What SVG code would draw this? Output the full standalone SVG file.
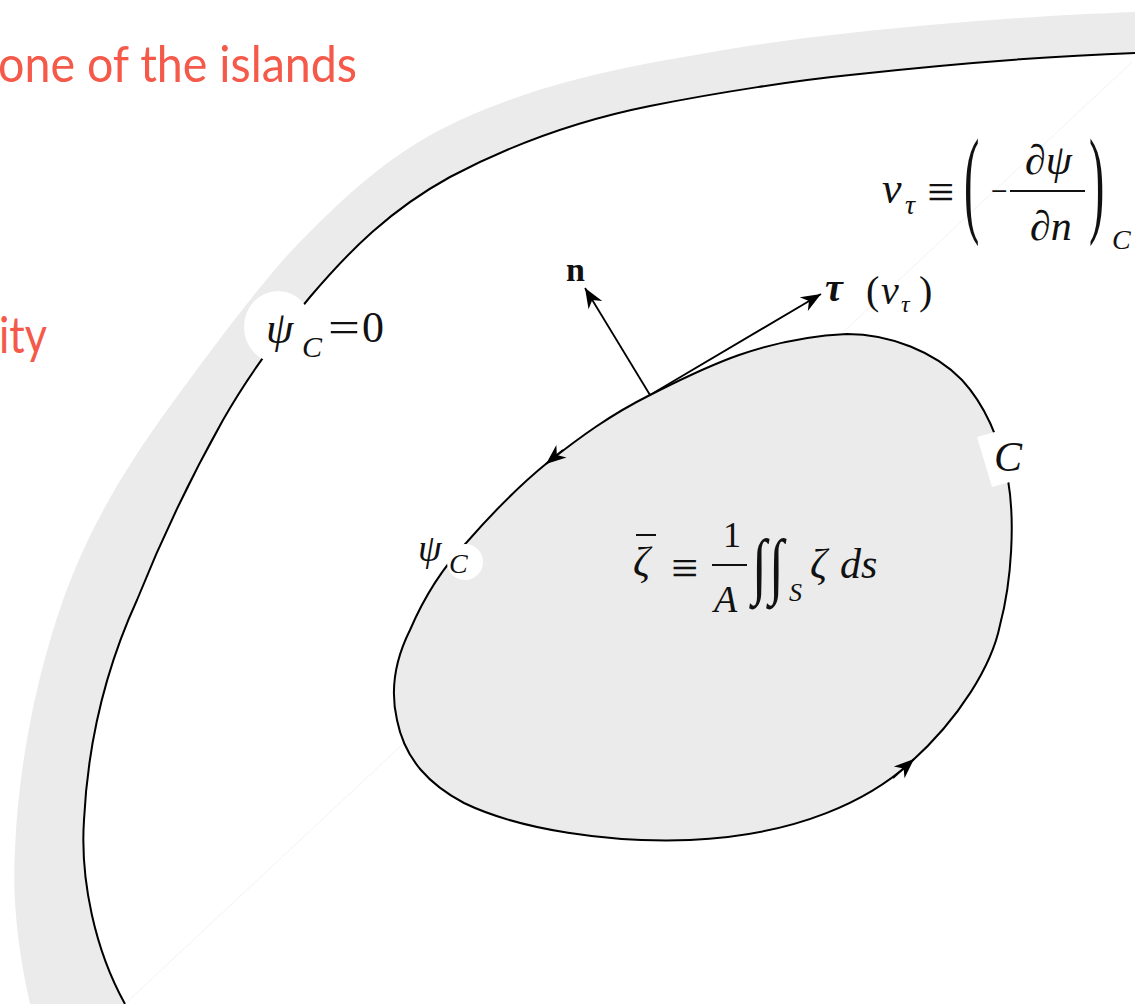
<svg xmlns="http://www.w3.org/2000/svg" width="1135" height="1004" viewBox="0 0 1135 1004">
<style>
.red{font-family:Lato,"Open Sans",sans-serif;fill:#f4594a;font-size:50px}
.m{font-family:"Liberation Serif","DejaVu Serif",serif;fill:#111}
.i{font-style:italic}
.b{font-weight:bold}
.curve{fill:none;stroke:#000;stroke-width:2}
.arr{fill:none;stroke:#000;stroke-width:1.8}
</style>
<defs>
<marker id="ah" viewBox="-21 -9 22 18" refX="0" refY="0" markerWidth="22" markerHeight="18" markerUnits="userSpaceOnUse" orient="auto">
<path d="M0,0 L-20,-8 L-14,0 L-20,8 Z" fill="#000"/>
</marker>
</defs>
<rect width="1135" height="1004" fill="#fff"/>
<g id="red-text">
<text class="red" x="-2" y="82" textLength="359" lengthAdjust="spacingAndGlyphs">one of the islands</text>
<text class="red" x="-1" y="353" textLength="48" lengthAdjust="spacingAndGlyphs">ity</text>
</g>
<g id="outer-boundary">
<path d="M30,1004 C18,950 12,900 15,850 C18,770 35,680 63,600 C90,525 125,470 160,420 C200,365 240,310 283,260 C330,210 370,172 417,143 C480,105 560,80 650,63 C720,50 780,40 850,33 C950,22 1050,15 1135,12 L1135,1004 Z" fill="#ebebeb"/>
<path d="M125,1004 C95,950 80,880 84,820 C88,740 105,670 137,600 C165,530 195,470 223,420 C240,390 270,345 310,297 C350,250 390,210 450,177 C520,140 590,118 650,106 C720,92 800,80 850,75 C950,64 1050,56 1135,53 L1135,1004 Z" fill="#fff"/>
<line x1="127" y1="1002" x2="1132" y2="62" stroke="#f2f2f2" stroke-width="1"/>
<path class="curve" d="M125,1004 C95,950 80,880 84,820 C88,740 105,670 137,600 C165,530 195,470 223,420 C240,390 270,345 310,297 C350,250 390,210 450,177 C520,140 590,118 650,106 C720,92 800,80 850,75 C950,64 1050,56 1135,53"/>
</g>
<g id="label-psi0">
<ellipse cx="278" cy="327" rx="34" ry="36" fill="#fff"/>
<text class="m i" x="266" y="343" font-size="44">ψ</text>
<text class="m i" x="302" y="357" font-size="30">C</text>
<text class="m" x="328" y="342" font-size="44" textLength="32" lengthAdjust="spacingAndGlyphs">=</text>
<text class="m" x="362" y="342" font-size="44">0</text>
</g>
<g id="island">
<path class="curve" style="fill:#ebebeb" d="M847,334 C890,334 935,352 962,380 C985,405 1000,440 1008,480 C1015,520 1012,580 1000,625 C992,665 960,718 910,763 C870,799 800,835 690,840 C610,843 520,830 464,803 C430,785 405,760 397,720 C390,690 395,660 410,630 C425,595 445,565 467,542 C495,510 520,485 547,463 C580,437 610,415 650,395 C700,370 760,338 847,334 Z"/>
<path class="arr" d="M563,450 L546,464" marker-end="url(#ah)"/>
<path class="arr" d="M893,778 L914,759" marker-end="url(#ah)"/>
</g>
<g id="connectors">
<path class="arr" d="M650,395 L585,288" marker-end="url(#ah)"/>
<path class="arr" d="M650,395 L821,294" marker-end="url(#ah)"/>
</g>
<g id="label-n">
<text class="m b" x="566" y="281" font-size="34">n</text>
</g>
<g id="label-tau">
<text class="m b i" x="825" y="301" font-size="40">τ</text>
<text class="m" x="866" y="304" font-size="40">(</text>
<text class="m i" x="881" y="304" font-size="40">v</text>
<text class="m i" x="901" y="312" font-size="24">τ</text>
<text class="m" x="919" y="304" font-size="40">)</text>
</g>
<g id="label-psiC">
<circle cx="465" cy="562" r="18" fill="#fff"/>
<text class="m i" x="418" y="561" font-size="38">ψ</text>
<text class="m i" x="449" y="573" font-size="28">C</text>
</g>
<g id="label-C">
<polygon points="977,437 1030,422 1045,472 992,487" fill="#fff"/>
<text class="m i" x="994" y="471" font-size="42">C</text>
</g>
<g id="formula-vtau">
<text class="m i" x="882" y="203" font-size="44">v</text>
<text class="m i" x="905" y="214" font-size="28">τ</text>
<text class="m" x="927" y="208" font-size="48">≡</text>
<text class="m" transform="translate(964,221) scale(1,2.6)" font-size="46">(</text>
<text x="990" y="198" font-size="22" font-family="'DejaVu Sans',sans-serif" fill="#111">−</text>
<line x1="1010" y1="191" x2="1085" y2="191" stroke="#111" stroke-width="2"/>
<text class="m i" x="1025" y="174" font-size="42">∂ψ</text>
<text class="m i" x="1030" y="240" font-size="42">∂n</text>
<text class="m" transform="translate(1089,221) scale(1,2.6)" font-size="46">)</text>
<text class="m i" x="1112" y="249" font-size="28">C</text>
</g>
<g id="formula-zeta">
<line x1="636" y1="535" x2="656" y2="535" stroke="#111" stroke-width="2"/>
<text class="m i" x="633" y="576" font-size="42">ζ</text>
<text class="m" x="671" y="584" font-size="48">≡</text>
<text class="m" x="723" y="547" font-size="36">1</text>
<line x1="712" y1="565" x2="747" y2="565" stroke="#111" stroke-width="2"/>
<text class="m i" x="714" y="612" font-size="38">A</text>
<text class="m" transform="translate(752,590) scale(1,1.35)" font-size="54">∫</text>
<text class="m" transform="translate(769,590) scale(1,1.35)" font-size="54">∫</text>
<text class="m i" x="789" y="601" font-size="26">S</text>
<text class="m i" x="810" y="578" font-size="42">ζ</text>
<text class="m i" x="840" y="578" font-size="42">ds</text>
</g>
</svg>
